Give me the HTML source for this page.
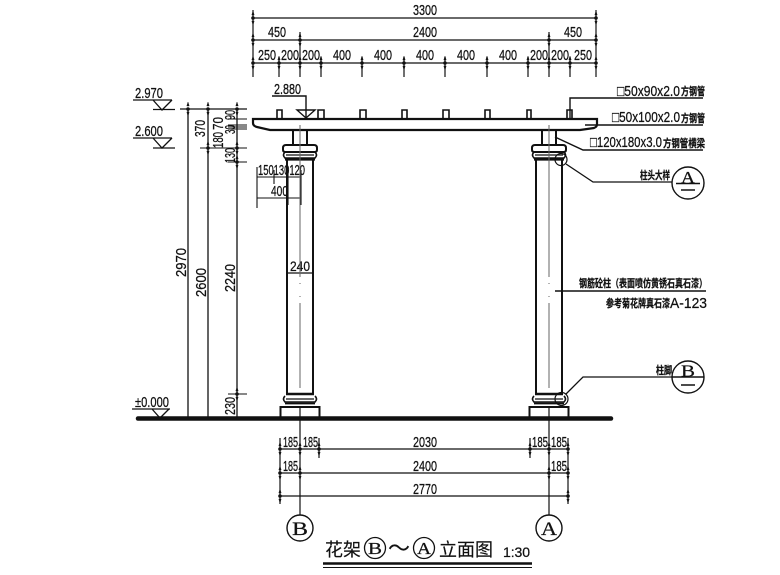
<!DOCTYPE html>
<html><head><meta charset="utf-8"><style>
html,body{margin:0;padding:0;background:#fff;width:780px;height:575px;overflow:hidden}
svg{display:block;font-size:15px}
text{font-family:"Liberation Sans","Noto Sans CJK SC",sans-serif;fill:#111;stroke:#111;stroke-width:.25px}
.c{font-family:"Noto Sans CJK SC",sans-serif;font-weight:700}
.s{font-family:"Liberation Serif","Noto Serif CJK SC",serif}
.t{font-family:"Noto Sans CJK SC",sans-serif;font-weight:400;stroke-width:.15px}
line,path,rect,circle,polyline{stroke:#111;fill:none}
</style></head><body>
<svg width="780" height="575" viewBox="0 0 780 575" xmlns="http://www.w3.org/2000/svg">
<defs>
<g id="t"><path d="M-1.200 -3 L0 -7 L1.200 -3Z M-1.200 3 L0 7 L1.200 3Z" style="fill:#111" stroke-width=".4"/><circle r="1.300" style="fill:#111" stroke="none"/></g>
<g id="col">
<path d="M-7 130V145M7 130V145" stroke-width="2"/>
<path d="M-14 145H14Q17 145 17 148V150Q17 152 14 152H-14Q-17 152 -17 150V148Q-17 145 -14 145Z" stroke-width="2"/>
<path d="M-15 152Q-18 155 -15 158H15Q18 155 15 152" stroke-width="1.600"/>
<path d="M-14 155H14" stroke-width="1.200"/>
<path d="M-15 159.500H15" stroke-width="2.200"/>
<path d="M-13 160V393M13 160V393" stroke-width="2"/>
<path d="M-14 394H14" stroke-width="2.600"/>
<path d="M-15 396Q-18 399 -15 402H15Q18 399 15 396" stroke-width="1.600"/>
<path d="M-14 399H14" stroke-width="1.200"/>
<path d="M-15 403.500H15" stroke-width="1.800"/>
<path d="M-19.500 418V407H19.500V418" stroke-width="2"/>
<line x1="0" y1="125" x2="0" y2="277" stroke-width="1" style="stroke:#666"/>
<line x1="0" y1="283" x2="0" y2="284" stroke-width="1" style="stroke:#666"/>
<line x1="0" y1="296" x2="0" y2="297" stroke-width="1" style="stroke:#666"/>
<line x1="0" y1="303" x2="0" y2="388" stroke-width="1" style="stroke:#666"/>
<line x1="0" y1="406" x2="0" y2="515" stroke-width="1.200"/>
</g>
</defs>

<!-- top dims -->
<path d="M253 18H596M253 40H596M253 63H596M253 10V77M596 10V77M300 32V77M549 32V77M279 57V77M321 57V77M362 57V77M404 57V77M445 57V77M487 57V77M528 57V77M570 57V77" stroke-width="1.200"/>
<use href="#t" x="253" y="18"/><use href="#t" x="596" y="18"/>
<use href="#t" x="253" y="40"/><use href="#t" x="300" y="40"/><use href="#t" x="549" y="40"/><use href="#t" x="596" y="40"/>
<use href="#t" x="253" y="63"/><use href="#t" x="279" y="63"/><use href="#t" x="300" y="63"/><use href="#t" x="321" y="63"/><use href="#t" x="362" y="63"/><use href="#t" x="404" y="63"/><use href="#t" x="445" y="63"/><use href="#t" x="487" y="63"/><use href="#t" x="528" y="63"/><use href="#t" x="549" y="63"/><use href="#t" x="570" y="63"/><use href="#t" x="596" y="63"/>
<text x="413" y="15" textLength="24" lengthAdjust="spacingAndGlyphs">3300</text>
<text x="268" y="37" textLength="18" lengthAdjust="spacingAndGlyphs">450</text>
<text x="413" y="37" textLength="24" lengthAdjust="spacingAndGlyphs">2400</text>
<text x="564" y="37" textLength="18" lengthAdjust="spacingAndGlyphs">450</text>
<text x="258" y="60" textLength="18" lengthAdjust="spacingAndGlyphs">250</text>
<text x="281" y="60" textLength="18" lengthAdjust="spacingAndGlyphs">200</text>
<text x="302" y="60" textLength="18" lengthAdjust="spacingAndGlyphs">200</text>
<text x="333" y="60" textLength="18" lengthAdjust="spacingAndGlyphs">400</text>
<text x="374" y="60" textLength="18" lengthAdjust="spacingAndGlyphs">400</text>
<text x="416" y="60" textLength="18" lengthAdjust="spacingAndGlyphs">400</text>
<text x="457" y="60" textLength="18" lengthAdjust="spacingAndGlyphs">400</text>
<text x="499" y="60" textLength="18" lengthAdjust="spacingAndGlyphs">400</text>
<text x="530" y="60" textLength="18" lengthAdjust="spacingAndGlyphs">200</text>
<text x="551" y="60" textLength="18" lengthAdjust="spacingAndGlyphs">200</text>
<text x="574" y="60" textLength="18" lengthAdjust="spacingAndGlyphs">250</text>

<!-- elevations -->
<text x="135" y="98" textLength="28" lengthAdjust="spacingAndGlyphs">2.970</text>
<path d="M133 100H172M153 100L162 110L172 100" stroke-width="1.300"/>
<path d="M153 109.500H175" stroke-width="1.300"/>
<text x="135" y="136" textLength="28" lengthAdjust="spacingAndGlyphs">2.600</text>
<path d="M133 138H172M153 138L162 148L172 138" stroke-width="1.300"/>
<path d="M153 148H175" stroke-width="1.300"/>
<text x="135" y="407" textLength="34" lengthAdjust="spacingAndGlyphs">±0.000</text>
<path d="M132 409H170M152 409L160 418L169 409" stroke-width="1.300"/>

<!-- vertical dims -->
<path d="M180 109H247" stroke-width="1.300"/>
<path d="M188 109V418M208 109V418M237 109V418" stroke-width="1.300"/>
<path d="M228 119H247M228 125H247M228 127H247M228 129H247M200 148H247M228 162H247M228 394H247" stroke-width="1.100"/>
<use href="#t" x="188" y="109"/><use href="#t" x="208" y="109"/><use href="#t" x="237" y="109"/><use href="#t" x="208" y="148"/><use href="#t" x="237" y="148"/><use href="#t" x="237" y="162"/><use href="#t" x="237" y="394"/>
<g transform="translate(205,137) rotate(-90)"><text textLength="17" lengthAdjust="spacingAndGlyphs">370</text></g>
<g transform="translate(186,277) rotate(-90)"><text textLength="29" lengthAdjust="spacingAndGlyphs">2970</text></g>
<g transform="translate(206,297) rotate(-90)"><text textLength="29" lengthAdjust="spacingAndGlyphs">2600</text></g>
<g transform="translate(235,292) rotate(-90)"><text textLength="28" lengthAdjust="spacingAndGlyphs">2240</text></g>
<g transform="translate(223,148) rotate(-90)"><text textLength="16" lengthAdjust="spacingAndGlyphs">180</text></g>
<g transform="translate(223,130) rotate(-90)"><text textLength="13" lengthAdjust="spacingAndGlyphs">70</text></g>
<g transform="translate(235,120) rotate(-90)"><text textLength="10" lengthAdjust="spacingAndGlyphs">90</text></g>
<g transform="translate(235,134) rotate(-90)"><text textLength="9" lengthAdjust="spacingAndGlyphs">30</text></g>
<g transform="translate(235,163) rotate(-90)"><text textLength="15" lengthAdjust="spacingAndGlyphs">130</text></g>
<g transform="translate(235,415) rotate(-90)"><text textLength="18" lengthAdjust="spacingAndGlyphs">230</text></g>

<!-- small dims on left column -->
<path d="M257 177H301M257 198H301M257 167V208M274 170V184M288 170V205M301 170V205" stroke-width="1.100"/>
<text x="258" y="175" textLength="47" lengthAdjust="spacingAndGlyphs">150130120</text>
<text x="271" y="196" textLength="17" lengthAdjust="spacingAndGlyphs">400</text>
<path d="M287 273H313" stroke-width="1.200"/>
<text x="290" y="271" textLength="20" font-size="14" lengthAdjust="spacingAndGlyphs">240</text>

<!-- columns -->
<use href="#col" x="300"/>
<use href="#col" x="549"/>

<!-- beam -->
<path d="M253 119H597V124Q597 127 594 128L580 130H270L257 127Q253 126 253 123Z" stroke-width="2.200" style="fill:#fff"/>
<path d="M277 119V110H282V119M318 119V110H324V119M360 119V110H366V119M402 119V110H407V119M443 119V110H449V119M485 119V110H490V119M527 119V110H531V119M567 119V110H572V119" stroke-width="1.600"/>
<line x1="300" y1="125" x2="300" y2="145" stroke-width="1" style="stroke:#666"/>
<line x1="549" y1="125" x2="549" y2="145" stroke-width="1" style="stroke:#666"/>

<!-- 2.880 -->
<text x="274" y="94" textLength="27" lengthAdjust="spacingAndGlyphs">2.880</text>
<path d="M272 96H306V118M297 110H315L306 118Z" stroke-width="1.400"/>

<!-- ground -->
<line x1="138" y1="418.500" x2="611" y2="418.500" stroke-width="4.500" stroke-linecap="round"/>

<!-- bottom dims -->
<path d="M280 449H568M280 473H568M280 496H568" stroke-width="1.200"/>
<path d="M280 438V504M568 438V504M319 438V458M530 438V458" stroke-width="1.200"/>
<use href="#t" x="280" y="449"/><use href="#t" x="300" y="449"/><use href="#t" x="319" y="449"/><use href="#t" x="530" y="449"/><use href="#t" x="549" y="449"/><use href="#t" x="568" y="449"/><use href="#t" x="280" y="473"/><use href="#t" x="300" y="473"/><use href="#t" x="549" y="473"/><use href="#t" x="568" y="473"/><use href="#t" x="280" y="496"/><use href="#t" x="568" y="496"/>
<text x="283" y="447" textLength="15" lengthAdjust="spacingAndGlyphs">185</text>
<text x="303" y="447" textLength="15" lengthAdjust="spacingAndGlyphs">185</text>
<text x="532" y="447" textLength="16" lengthAdjust="spacingAndGlyphs">185</text>
<text x="551" y="447" textLength="16" lengthAdjust="spacingAndGlyphs">185</text>
<text x="283" y="471" textLength="15" lengthAdjust="spacingAndGlyphs">185</text>
<text x="551" y="471" textLength="16" lengthAdjust="spacingAndGlyphs">185</text>
<text x="413" y="447" textLength="24" lengthAdjust="spacingAndGlyphs">2030</text>
<text x="413" y="471" textLength="24" lengthAdjust="spacingAndGlyphs">2400</text>
<text x="413" y="494" textLength="24" lengthAdjust="spacingAndGlyphs">2770</text>

<!-- axis bubbles -->
<circle cx="300" cy="528" r="13" stroke-width="1.400" style="fill:#fff"/>
<text class="s" x="292" y="535" font-size="19" textLength="16" lengthAdjust="spacingAndGlyphs">B</text>
<circle cx="549" cy="528" r="13" stroke-width="1.400" style="fill:#fff"/>
<text class="s" x="541" y="535" font-size="19" textLength="16" lengthAdjust="spacingAndGlyphs">A</text>

<!-- right callouts -->
<path d="M570 118V98H703" stroke-width="1.400"/>
<path d="M585 125H703" stroke-width="1.400"/>
<path d="M555 137L583 150H703" stroke-width="1.400"/>
<text x="617" y="96" textLength="63" lengthAdjust="spacingAndGlyphs">□50x90x2.0</text>
<text class="c" x="681" y="95" font-size="11" textLength="24" lengthAdjust="spacingAndGlyphs">方钢管</text>
<text x="612" y="122" textLength="68" lengthAdjust="spacingAndGlyphs">□50x100x2.0</text>
<text class="c" x="681" y="122" font-size="11" textLength="24" lengthAdjust="spacingAndGlyphs">方钢管</text>
<text x="590" y="147" textLength="72" lengthAdjust="spacingAndGlyphs">□120x180x3.0</text>
<text class="c" x="663" y="147" font-size="11" textLength="42" lengthAdjust="spacingAndGlyphs">方钢管横梁</text>

<circle cx="561" cy="159.500" r="6" stroke-width="1.200"/>
<path d="M566 164L593 182H672" stroke-width="1.300"/>
<text class="c" x="640" y="179" font-size="11" textLength="30" lengthAdjust="spacingAndGlyphs">柱头大样</text>
<circle cx="688" cy="183" r="16" stroke-width="1.400"/>
<text class="s" x="681" y="183" font-size="17" textLength="14" lengthAdjust="spacingAndGlyphs">A</text>
<path d="M676 183.500H700M681 190H695" stroke-width="1.400"/>

<path d="M555 291H706" stroke-width="1.600"/>
<text class="c" x="579" y="287" font-size="11" textLength="128" lengthAdjust="spacingAndGlyphs">钢筋砼柱（表面喷仿黄锈石真石漆）</text>
<text class="c" x="606" y="307" font-size="11" textLength="64" lengthAdjust="spacingAndGlyphs">参考菊花牌真石漆</text>
<text x="670" y="308" textLength="37" lengthAdjust="spacingAndGlyphs">A-123</text>

<circle cx="561.500" cy="399" r="6.500" stroke-width="1.200"/>
<path d="M566 394L583 377H672" stroke-width="1.300"/>
<text class="c" x="656" y="374" font-size="11" textLength="16" lengthAdjust="spacingAndGlyphs">柱脚</text>
<circle cx="688" cy="377" r="16" stroke-width="1.400"/>
<text class="s" x="681" y="376.500" font-size="17" textLength="14" lengthAdjust="spacingAndGlyphs">B</text>
<path d="M672 377H704M681 385H695" stroke-width="1.400"/>

<!-- title -->
<text class="t" x="325" y="556" font-size="18">花架</text>
<circle cx="375" cy="548" r="10.500" stroke-width="1.300"/>
<text class="s" x="368" y="554" font-size="17" textLength="14" lengthAdjust="spacingAndGlyphs">B</text>
<text class="t" x="388" y="556" font-size="22">～</text>
<circle cx="424" cy="548" r="10.500" stroke-width="1.300"/>
<text class="s" x="417" y="554" font-size="17" textLength="14" lengthAdjust="spacingAndGlyphs">A</text>
<text class="t" x="439" y="556" font-size="18">立面图</text>
<text x="503" y="557" textLength="27" font-size="14" lengthAdjust="spacing">1:30</text>
<path d="M323 563.500H532" stroke-width="2.500"/>
<path d="M323 567.500H532" stroke-width="1"/>
</svg>
</body></html>
